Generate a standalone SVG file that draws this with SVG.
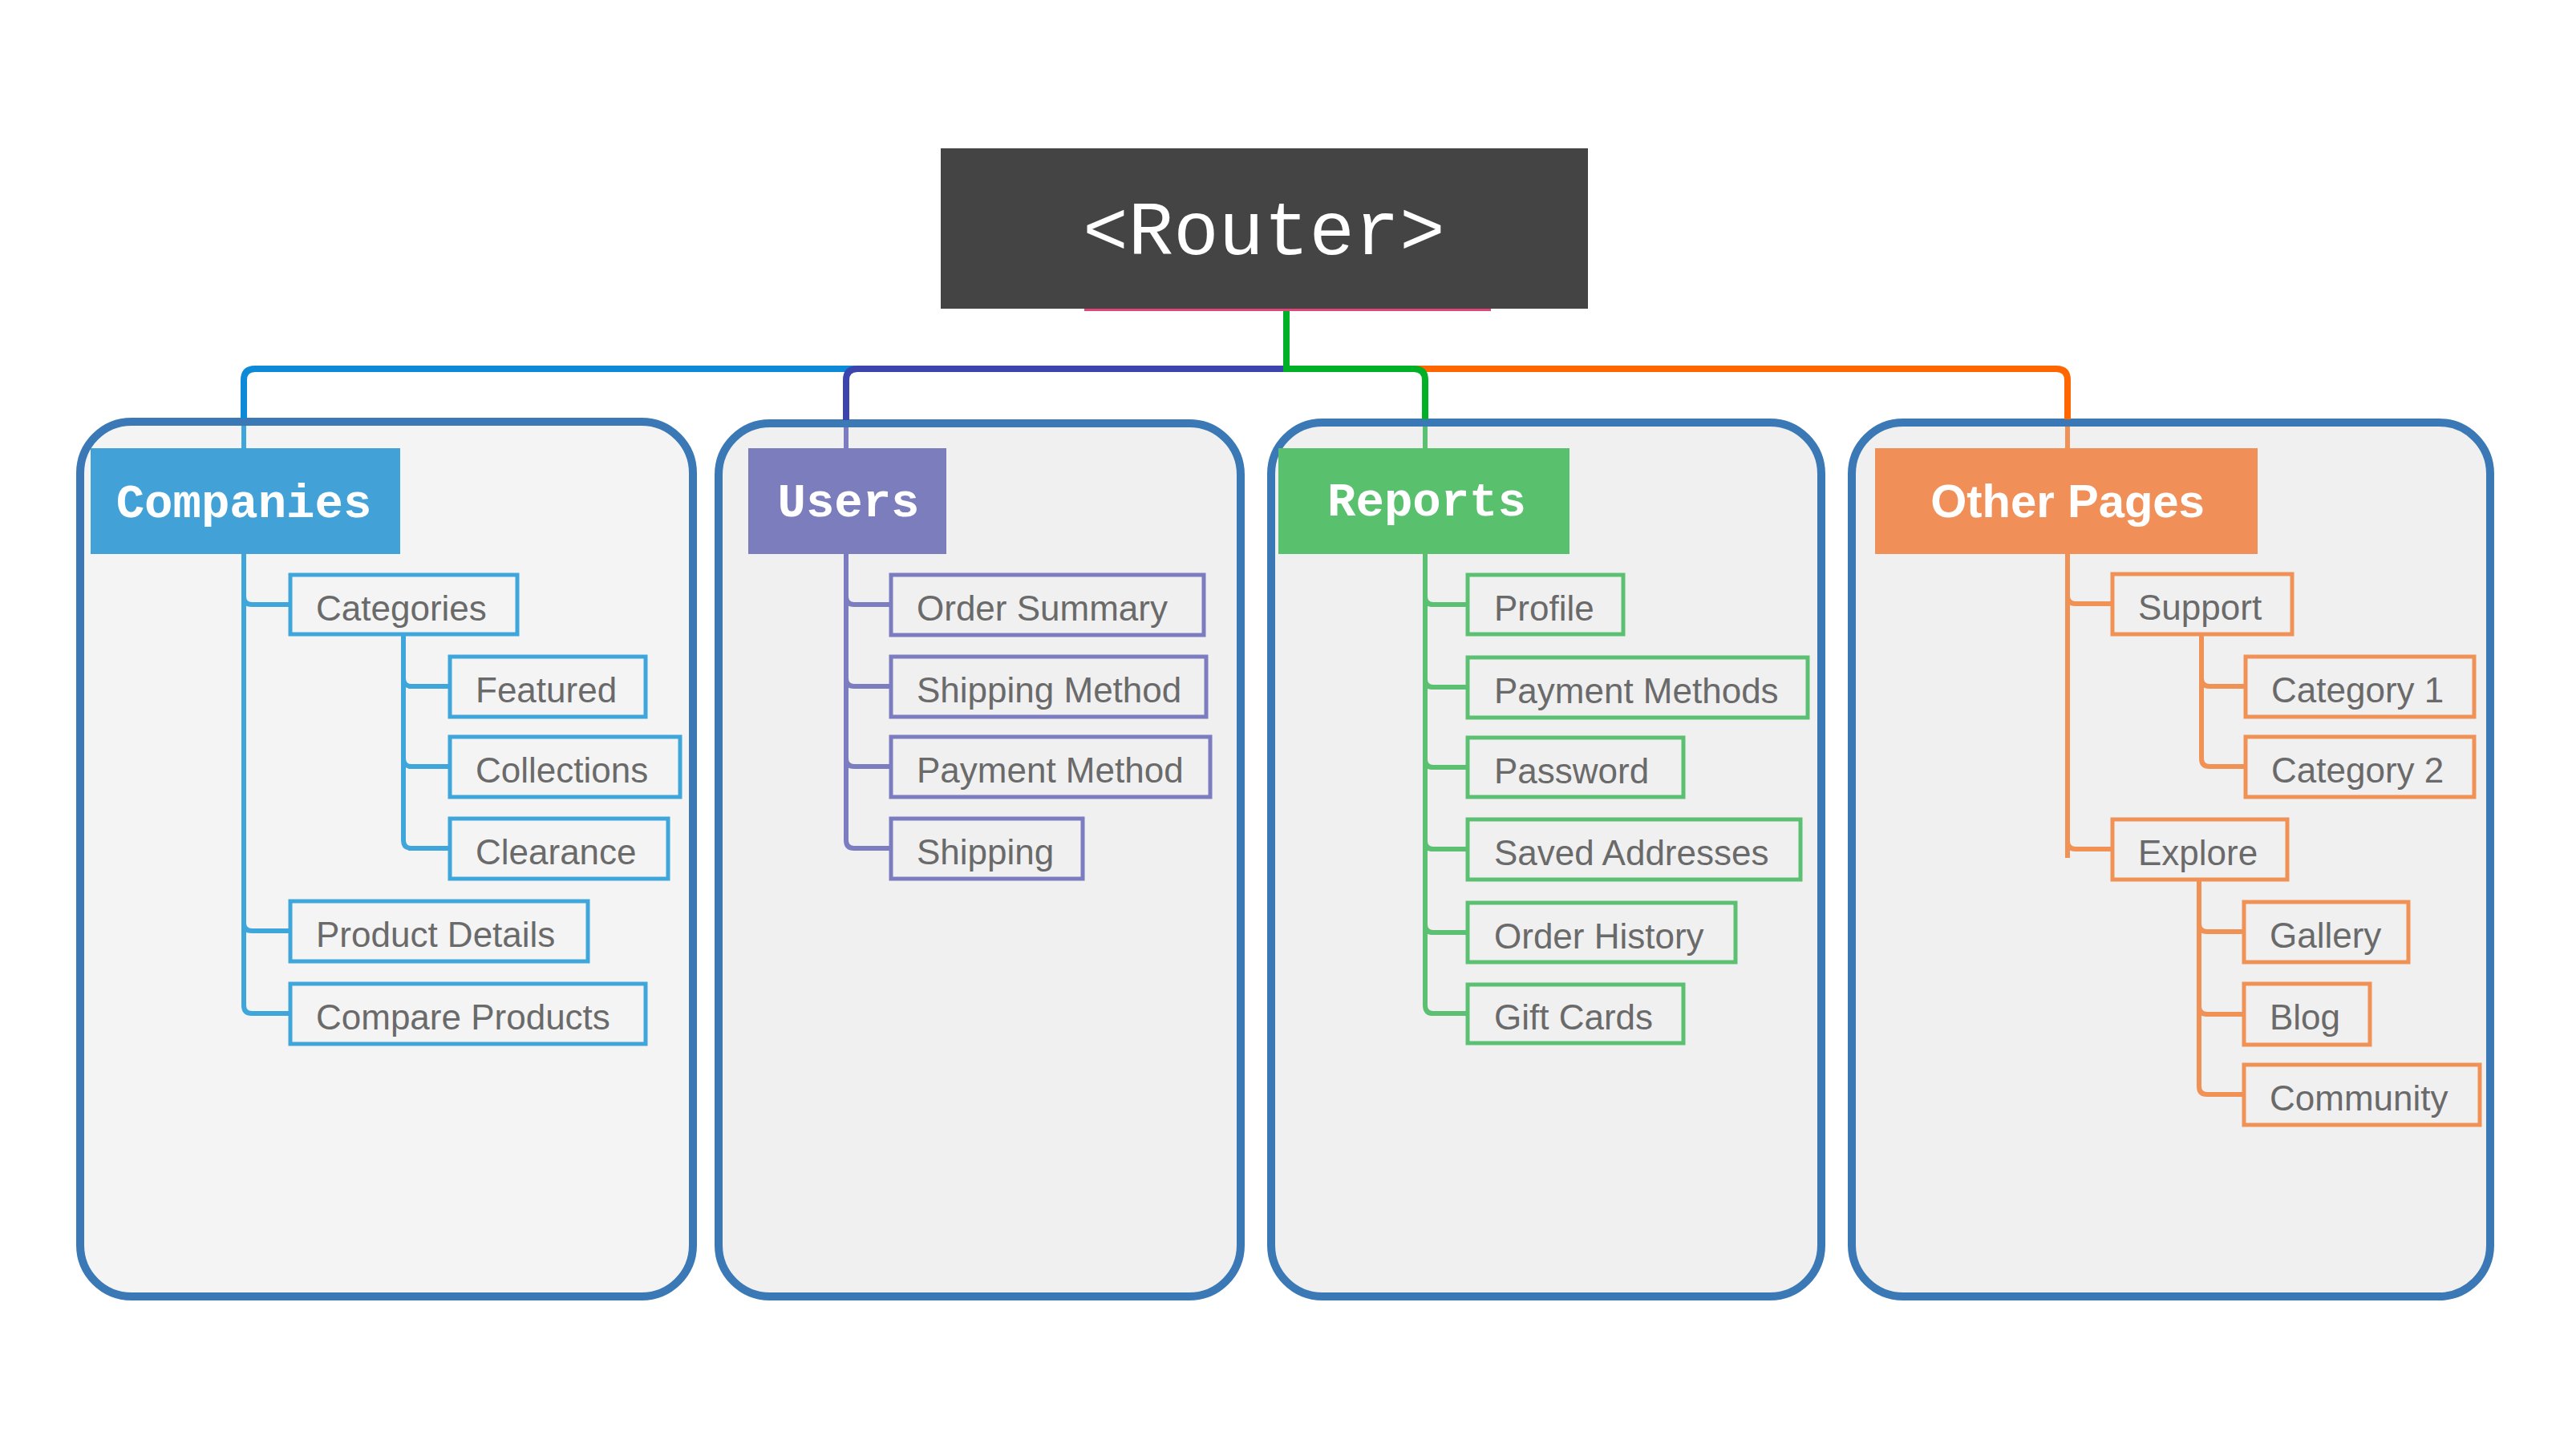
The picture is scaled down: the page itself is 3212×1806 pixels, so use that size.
<svg xmlns="http://www.w3.org/2000/svg" width="3212" height="1806" viewBox="0 0 3212 1806">
<style>
.panel{stroke:#3a79b6;stroke-width:10;}
.hdr{font-family:"Liberation Mono","Courier New",monospace;font-weight:bold;font-size:59px;fill:#ffffff;text-anchor:middle;}
.hdr2{font-family:"Liberation Sans",Arial,sans-serif;font-weight:bold;font-size:58px;fill:#ffffff;text-anchor:middle;}
.lbl{font-family:"Liberation Sans",Arial,sans-serif;font-size:44px;fill:#6a6a6a;}
.box{fill:none;stroke-width:5;}
.ln{fill:none;stroke-width:6;}
.top{fill:none;stroke-width:8;}
.cB{stroke:#3fa6dc;} .cU{stroke:#7b7dc0;} .cR{stroke:#5cc072;} .cO{stroke:#f09256;}
</style>
<rect width="3212" height="1806" fill="#ffffff"/>
<g id="panels">
<rect class="panel" x="100" y="526" width="764" height="1091" rx="64" fill="#f4f4f4"/>
<rect class="panel" x="896" y="528" width="651" height="1089" rx="64" fill="#f0f0f0"/>
<rect class="panel" x="1585" y="527" width="686" height="1090" rx="64" fill="#f0f0f0"/>
<rect class="panel" x="2309" y="527" width="796" height="1090" rx="64" fill="#f0f0f0"/>
</g>
<g id="connectors">
<path class="top" stroke="#0c8ad8" d="M1604,460 H318 Q304,460 304,474 V522"/>
<path class="top" stroke="#3c44ae" d="M1604,460 H1069 Q1055,460 1055,474 V524"/>
<path class="top" stroke="#ff6600" d="M1604,460 H2564 Q2578,460 2578,474 V523"/>
<path class="top" stroke="#00b026" d="M1604,460 H1763 Q1777,460 1777,474 V523"/>
<path class="top" stroke="#00b026" d="M1604,387 V464"/>
<line x1="1352" y1="386.5" x2="1859" y2="386.5" stroke="#e0457b" stroke-width="3"/>
<line class="ln cB" x1="304" y1="531" x2="304" y2="560"/>
<line class="ln cU" x1="1055" y1="533" x2="1055" y2="560"/>
<line class="ln cR" x1="1777" y1="532" x2="1777" y2="560"/>
<line class="ln cO" x1="2578" y1="532" x2="2578" y2="560"/>
<!-- Companies -->
<path class="ln cB" d="M304,690 V1254 Q304,1264 314,1264 H362"/>
<path class="ln cB" d="M304,744 Q304,754 314,754 H362"/>
<path class="ln cB" d="M304,1151 Q304,1161 314,1161 H362"/>
<path class="ln cB" d="M503,791 V1048 Q503,1058 513,1058 H561"/>
<path class="ln cB" d="M503,846 Q503,856 513,856 H561"/>
<path class="ln cB" d="M503,946 Q503,956 513,956 H561"/>
<!-- Users -->
<path class="ln cU" d="M1055,690 V1048 Q1055,1058 1065,1058 H1111"/>
<path class="ln cU" d="M1055,744 Q1055,754 1065,754 H1111"/>
<path class="ln cU" d="M1055,846 Q1055,856 1065,856 H1111"/>
<path class="ln cU" d="M1055,946 Q1055,956 1065,956 H1111"/>
<!-- Reports -->
<path class="ln cR" d="M1777,690 V1254 Q1777,1264 1787,1264 H1830"/>
<path class="ln cR" d="M1777,744 Q1777,754 1787,754 H1830"/>
<path class="ln cR" d="M1777,847 Q1777,857 1787,857 H1830"/>
<path class="ln cR" d="M1777,947 Q1777,957 1787,957 H1830"/>
<path class="ln cR" d="M1777,1049 Q1777,1059 1787,1059 H1830"/>
<path class="ln cR" d="M1777,1153 Q1777,1163 1787,1163 H1830"/>
<!-- Other Pages -->
<path class="ln cO" d="M2578,690 V1070"/>
<path class="ln cO" d="M2578,743 Q2578,753 2588,753 H2634"/>
<path class="ln cO" d="M2578,1049 Q2578,1059 2588,1059 H2634"/>
<path class="ln cO" d="M2745,791 V946 Q2745,956 2755,956 H2800"/>
<path class="ln cO" d="M2745,846 Q2745,856 2755,856 H2800"/>
<path class="ln cO" d="M2742,1097 V1355 Q2742,1365 2752,1365 H2798"/>
<path class="ln cO" d="M2742,1152 Q2742,1162 2752,1162 H2798"/>
<path class="ln cO" d="M2742,1255 Q2742,1265 2752,1265 H2798"/>
</g>
<g id="router">
<rect x="1173" y="185" width="807" height="200" fill="#444444"/>
<text x="1576" y="317" font-family="'Liberation Mono','Courier New',monospace" font-size="94" fill="#ffffff" text-anchor="middle">&lt;Router&gt;</text>
</g>
<g id="companies">
<rect x="113" y="559" width="386" height="132" fill="#42a2d8"/>
<text class="hdr" x="304" y="645">Companies</text>
</g>
<g id="categories"><rect class="box cB" x="362" y="717" width="283" height="74"/><text class="lbl" x="394" y="774">Categories</text></g>
<g id="featured"><rect class="box cB" x="561" y="819" width="244" height="75"/><text class="lbl" x="593" y="876">Featured</text></g>
<g id="collections"><rect class="box cB" x="561" y="919" width="287" height="75"/><text class="lbl" x="593" y="976">Collections</text></g>
<g id="clearance"><rect class="box cB" x="561" y="1021" width="272" height="75"/><text class="lbl" x="593" y="1078">Clearance</text></g>
<g id="product-details"><rect class="box cB" x="362" y="1124" width="371" height="75"/><text class="lbl" x="394" y="1181">Product Details</text></g>
<g id="compare-products"><rect class="box cB" x="362" y="1227" width="443" height="75"/><text class="lbl" x="394" y="1284">Compare Products</text></g>
<g id="users">
<rect x="933" y="559" width="247" height="132" fill="#7b7dbd"/>
<text class="hdr" x="1058" y="644">Users</text>
</g>
<g id="order-summary"><rect class="box cU" x="1111" y="717" width="390" height="75"/><text class="lbl" x="1143" y="774">Order Summary</text></g>
<g id="shipping-method"><rect class="box cU" x="1111" y="819" width="393" height="75"/><text class="lbl" x="1143" y="876">Shipping Method</text></g>
<g id="payment-method"><rect class="box cU" x="1111" y="919" width="398" height="75"/><text class="lbl" x="1143" y="976">Payment Method</text></g>
<g id="shipping"><rect class="box cU" x="1111" y="1021" width="239" height="75"/><text class="lbl" x="1143" y="1078">Shipping</text></g>
<g id="reports">
<rect x="1594" y="559" width="363" height="132" fill="#59c06e"/>
<text class="hdr" x="1779" y="643">Reports</text>
</g>
<g id="profile"><rect class="box cR" x="1830" y="717" width="194" height="74"/><text class="lbl" x="1863" y="774">Profile</text></g>
<g id="payment-methods"><rect class="box cR" x="1830" y="820" width="424" height="75"/><text class="lbl" x="1863" y="877">Payment Methods</text></g>
<g id="password"><rect class="box cR" x="1830" y="920" width="269" height="74"/><text class="lbl" x="1863" y="977">Password</text></g>
<g id="saved-addresses"><rect class="box cR" x="1830" y="1022" width="415" height="75"/><text class="lbl" x="1863" y="1079">Saved Addresses</text></g>
<g id="order-history"><rect class="box cR" x="1830" y="1126" width="334" height="74"/><text class="lbl" x="1863" y="1183">Order History</text></g>
<g id="gift-cards"><rect class="box cR" x="1830" y="1228" width="269" height="73"/><text class="lbl" x="1863" y="1284">Gift Cards</text></g>
<g id="other-pages">
<rect x="2338" y="559" width="477" height="132" fill="#f09058"/>
<text class="hdr2" x="2578" y="645">Other Pages</text>
</g>
<g id="support"><rect class="box cO" x="2634" y="716" width="224" height="75"/><text class="lbl" x="2666" y="773">Support</text></g>
<g id="category-1"><rect class="box cO" x="2800" y="819" width="285" height="75"/><text class="lbl" x="2832" y="876">Category 1</text></g>
<g id="category-2"><rect class="box cO" x="2800" y="919" width="285" height="75"/><text class="lbl" x="2832" y="976">Category 2</text></g>
<g id="explore"><rect class="box cO" x="2634" y="1022" width="218" height="75"/><text class="lbl" x="2666" y="1079">Explore</text></g>
<g id="gallery"><rect class="box cO" x="2798" y="1125" width="205" height="75"/><text class="lbl" x="2830" y="1182">Gallery</text></g>
<g id="blog"><rect class="box cO" x="2798" y="1227" width="157" height="76"/><text class="lbl" x="2830" y="1284">Blog</text></g>
<g id="community"><rect class="box cO" x="2798" y="1328" width="294" height="75"/><text class="lbl" x="2830" y="1385">Community</text></g>
</svg>
